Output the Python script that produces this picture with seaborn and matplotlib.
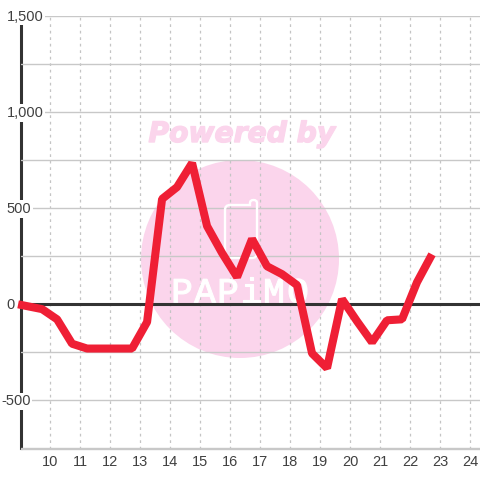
import matplotlib
matplotlib.use('Agg')
import matplotlib.pyplot as plt
import matplotlib.patheffects as pe
import seaborn as sns
import pandas as pd
from matplotlib.patches import Ellipse, PathPatch
from matplotlib.path import Path

# half hourly values
hours = [8.92, 9.72, 10.22, 10.72, 11.22, 11.72, 12.22, 12.72, 13.22, 13.72, 14.22, 14.72, 15.22,
         15.72, 16.22, 16.72, 17.22, 17.72, 18.22, 18.72, 19.22, 19.72, 20.22, 20.72, 21.22,
         21.72, 22.22, 22.72]
values = [0, -25, -78, -205, -230, -230, -230, -230, -92, 548, 610, 735, 407,
          267, 142, 340, 198, 157, 100, -255, -332, 27, -88, -197, -83,
          -78, 115, 260]
x_ticks = list(range(10, 25))
y_ticks = [-500, 0, 500, 1000, 1500]
y_tick_labels = ['-500', '0', '500', '1,000', '1,500']
y_grid = [-750, -500, -250, 250, 500, 750, 1000, 1250, 1500]

df = pd.DataFrame({'hour': hours, 'value': values})

sns.set_theme(style='white')
plt.rcParams['font.family'] = ['Liberation Sans', 'DejaVu Sans']

fig = plt.figure(figsize=(4.8, 4.8), dpi=100)
ax = fig.add_axes([20.5 / 480, 1 - 448.5 / 480, 459.5 / 480, 432.5 / 480])
ax.patch.set_alpha(0)

sns.lineplot(data=df, x='hour', y='value', color='#ef1f35', linewidth=5.8, ax=ax, zorder=3,
             solid_joinstyle='bevel', solid_capstyle='butt', clip_on=False, errorbar=None)

ax.set_xlim(9.0, 24.32)
ax.set_ylim(-750, 1500)
ax.set_xlabel('')
ax.set_ylabel('')

# grid
ax.set_axisbelow(True)
ax.set_xticks(x_ticks)
ax.set_yticks(y_grid, labels=['' for v in y_grid])
ax.grid(axis='y', color='#c8c8c8', linewidth=1, linestyle='-')
ax.grid(axis='x', color='#c4c4c4', linewidth=0.9, linestyle=(0, (2.2, 3)))
ax.tick_params(axis='x', length=0, pad=5, labelsize=10.5, labelcolor='#404040')
ax.tick_params(axis='y', length=0)

for s in ['top', 'right']:
    ax.spines[s].set_visible(False)
ax.spines['bottom'].set_color('#c8c8c8')
ax.spines['bottom'].set_linewidth(1)
ax.spines['left'].set_color('#333333')
ax.spines['left'].set_linewidth(2.2)
ax.spines['left'].set_zorder(0.4)
ax.spines['bottom'].set_zorder(0.4)
ax.axhline(0, color='#333333', linewidth=2.2, zorder=0.55)

# y labels sit on top of the axis line, with white behind them
for v, lab in zip(y_ticks, y_tick_labels):
    x_off = -14 if lab == '-500' else -10
    ax.annotate(lab, xy=(0, v), xycoords=ax.get_yaxis_transform(), xytext=(x_off, -0.6),
                textcoords='offset points', ha='left', va='center', color='#404040', fontsize=10.5,
                zorder=0.6, annotation_clip=False,
                bbox=dict(facecolor='white', edgecolor='none', pad=1.2))


def px(x, y):
    return (x / 480, 1 - y / 480)


# watermark
circle = Ellipse(px(240, 259), 198 / 480, 198 / 480, transform=fig.transFigure,
                 facecolor='#fbd5ec', edgecolor='none', zorder=0.1)
ax.add_patch(circle)
C = Path.CURVE3
L = Path.LINETO
phone_pts = [(230, 205), (225, 205), (225, 210), (225, 253), (225, 258), (230, 258), (252, 258),
             (257, 258), (257, 253), (257, 203), (257, 200), (253.5, 200), (250, 200), (250, 203),
             (250, 205), (230, 205)]
phone_codes = [Path.MOVETO, C, C, L, C, C, L, C, C, L, C, C, C, C, L, L]
phone = PathPatch(Path([px(*p) for p in phone_pts], phone_codes), transform=fig.transFigure,
                  facecolor='none', edgecolor='white', linewidth=1.7, zorder=0.52)
ax.add_patch(phone)
for ch, cx in zip('PAPiMO', [182, 205, 228, 251, 274, 298]):
    ax.text(*px(cx, 303), ch, transform=fig.transFigure, color='white', fontsize=26,
            family='Liberation Mono', ha='center', va='baseline', zorder=0.52,
            path_effects=[pe.withStroke(linewidth=0.8, foreground='white')])
fig.text(242 / 480, 1 - 134 / 480, 'Powered by', color='#fbd5ec', fontsize=20.3, fontweight='bold',
         fontstyle='italic', family='DejaVu Sans', ha='center', va='center', zorder=0,
         path_effects=[pe.withStroke(linewidth=1, foreground='#fbd5ec')])

fig.savefig('out.png', dpi=100)
